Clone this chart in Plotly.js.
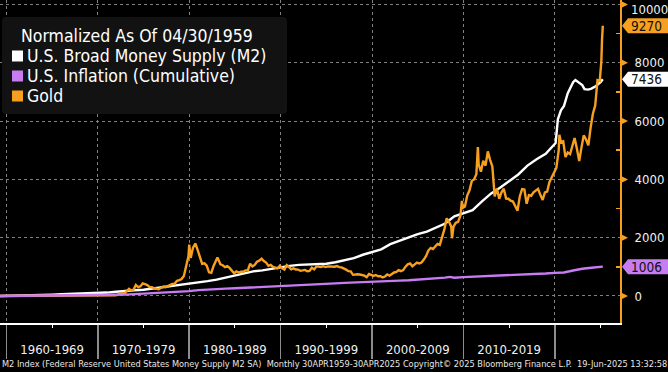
<!DOCTYPE html>
<html><head><meta charset="utf-8">
<script src="https://cdn.plot.ly/plotly-3.0.1.min.js"></script>
<style>html,body{margin:0;padding:0;background:#000;overflow:hidden}#chart{width:668px;height:372px;}</style>
</head><body><div id="chart"></div>
<script>
const FONT = '"DejaVu Sans Condensed", "DejaVu Sans", sans-serif';

const legendTitle = 'Normalized As Of 04/30/1959';
const seriesNames = ['U.S. Broad Money Supply (M2)', 'U.S. Inflation (Cumulative)', 'Gold'];
const seriesColors = ['#ffffff', '#c77cf2', '#f7a01f'];
const lastValues = [7436, 1006, 9270];

const m2Dates = ['1959-04','1960-01','1961-01','1962-01','1963-01','1964-01','1965-01','1966-01','1967-01','1968-01','1969-01','1970-01','1971-01','1972-01','1973-01','1974-01','1975-01','1976-01','1977-01','1978-01','1979-01','1980-01','1981-01','1982-01','1983-01','1984-01','1985-01','1986-01','1987-01','1988-01','1989-01','1990-01','1991-01','1992-01','1993-01','1994-01','1995-01','1996-01','1997-01','1998-01','1999-01','2000-01','2001-01','2002-01','2003-01','2004-01','2005-01','2006-01','2007-01','2008-01','2009-01','2010-01','2011-01','2012-01','2013-01','2014-01','2015-01','2016-01','2017-01','2018-01','2019-01','2020-01','2020-02','2020-04','2020-05','2020-09','2021-01','2021-06','2022-01','2022-04','2022-09','2023-01','2023-04','2023-09','2024-01','2024-06','2025-01','2025-04'];
const m2Vals = [0,3,8,16,26,36,47,59,66,82,96,103,117,146,178,196,212,252,299,339,373,410,454,508,560,635,698,762,845,880,936,992,1032,1067,1085,1102,1106,1156,1221,1296,1414,1505,1602,1779,1896,1998,2119,2211,2347,2485,2735,2835,2944,3240,3509,3712,3938,4169,4472,4693,4880,5203,5246,5782,6059,6371,6519,6959,7336,7409,7305,7236,7097,7080,7114,7184,7339,7436];

const cpiDates = ['1959-04','1960-01','1961-01','1962-01','1963-01','1964-01','1965-01','1966-01','1967-01','1968-01','1969-01','1970-01','1971-01','1972-01','1973-01','1974-01','1975-01','1976-01','1977-01','1978-01','1979-01','1980-01','1981-01','1982-01','1983-01','1984-01','1985-01','1986-01','1987-01','1988-01','1989-01','1990-01','1991-01','1992-01','1993-01','1994-01','1995-01','1996-01','1997-01','1998-01','1999-01','2000-01','2001-01','2002-01','2003-01','2004-01','2005-01','2006-01','2007-01','2008-01','2008-07','2009-01','2010-01','2011-01','2012-01','2013-01','2014-01','2015-01','2016-01','2017-01','2018-01','2019-01','2020-01','2021-01','2022-01','2023-01','2024-01','2025-01','2025-04'];
const cpiVals = [0,1,3,4,5,7,8,10,14,18,23,30,37,42,47,61,80,92,103,116,136,168,200,225,237,252,264,278,284,299,318,340,364,377,392,404,419,433,449,458,467,482,504,511,527,539,558,584,598,628,655,628,648,660,682,695,710,706,717,741,759,772,793,804,873,935,969,996,1006];

const goldDates = ['1959-04','1961-01','1964-01','1967-12','1968-03','1968-06','1968-12','1969-03','1969-06','1969-12','1970-06','1970-12','1971-06','1971-12','1972-03','1972-06','1972-12','1973-03','1973-06','1973-09','1973-12','1974-03','1974-06','1974-09','1974-12','1975-03','1975-06','1975-09','1975-12','1976-03','1976-06','1976-09','1976-12','1977-03','1977-06','1977-09','1977-12','1978-03','1978-06','1978-09','1978-12','1979-03','1979-06','1979-09','1979-12','1980-01','1980-03','1980-06','1980-09','1980-12','1981-03','1981-06','1981-09','1981-12','1982-03','1982-06','1982-09','1982-12','1983-02','1983-06','1983-09','1983-12','1984-03','1984-06','1984-09','1984-12','1985-03','1985-06','1985-09','1985-12','1986-03','1986-06','1986-09','1986-12','1987-03','1987-06','1987-09','1987-12','1988-03','1988-06','1988-09','1988-12','1989-03','1989-06','1989-09','1989-12','1990-03','1990-06','1990-09','1990-12','1991-03','1991-06','1991-09','1991-12','1992-03','1992-06','1992-09','1992-12','1993-03','1993-06','1993-09','1993-12','1994-03','1994-06','1994-09','1994-12','1995-03','1995-06','1995-09','1995-12','1996-03','1996-06','1996-09','1996-12','1997-03','1997-06','1997-09','1997-12','1998-03','1998-06','1998-09','1998-12','1999-03','1999-06','1999-09','1999-12','2000-03','2000-06','2000-09','2000-12','2001-03','2001-06','2001-09','2001-12','2002-03','2002-06','2002-09','2002-12','2003-03','2003-06','2003-09','2003-12','2004-03','2004-06','2004-09','2004-12','2005-03','2005-06','2005-09','2005-12','2006-03','2006-06','2006-09','2006-12','2007-03','2007-06','2007-09','2007-12','2008-03','2008-06','2008-09','2008-10','2008-12','2009-03','2009-06','2009-09','2009-11','2009-12','2010-03','2010-06','2010-09','2010-12','2011-03','2011-06','2011-08','2011-09','2011-12','2012-03','2012-06','2012-09','2012-12','2013-03','2013-06','2013-09','2013-12','2014-03','2014-06','2014-09','2014-12','2015-03','2015-06','2015-09','2015-12','2016-03','2016-06','2016-09','2016-12','2017-03','2017-06','2017-09','2017-12','2018-03','2018-06','2018-09','2018-12','2019-03','2019-06','2019-09','2019-12','2020-03','2020-06','2020-07','2020-09','2020-12','2021-03','2021-06','2021-09','2021-12','2022-03','2022-06','2022-09','2022-12','2023-03','2023-06','2023-09','2023-12','2024-03','2024-06','2024-09','2024-12','2025-02','2025-03','2025-04'];
const goldVals = [0,0,0,0,8,14,17,22,17,0,3,7,14,24,37,85,85,156,242,185,219,379,307,333,430,404,373,305,299,265,253,233,282,325,302,339,370,416,424,521,544,584,689,1031,1359,1760,1307,1660,1800,1581,1322,1105,1119,1040,812,797,1031,1176,1324,1088,1054,988,1022,963,874,780,840,803,829,832,880,883,1108,1014,1065,1176,1210,1279,1199,1145,1034,1068,997,963,946,1042,948,903,1062,1000,914,946,909,906,863,877,894,849,860,971,911,1014,1011,997,1022,991,1014,1003,994,1003,1028,988,980,951,903,852,846,726,746,743,738,721,698,646,752,721,689,721,678,675,635,669,735,695,758,806,823,889,852,886,1005,1088,1117,1020,1082,1148,1119,1145,1248,1373,1558,1646,1607,1701,1783,1752,2017,2282,2664,2550,2379,1980,2379,2510,2541,2752,3262,3023,3071,3444,3624,3949,4000,4174,5111,4515,4262,4635,4470,4960,4672,4444,3416,3681,3333,3558,3681,3342,3336,3270,3239,3077,2923,3413,3666,3649,3165,3458,3438,3555,3612,3675,3470,3296,3552,3581,3914,4094,4222,4393,4974,5527,5273,5307,4766,4923,4866,5111,5419,5048,4629,5097,5510,5367,5168,5777,6253,6530,7407,7379,8043,8800,9270];

const decadeStarts = ['1960-01-01','1970-01-01','1980-01-01','1990-01-01','2000-01-01','2010-01-01','2020-01-01'];
const decadeMids = ['1965-01-01','1975-01-01','1985-01-01','1995-01-01','2005-01-01','2015-01-01','2025-01-01'];
const decadeLabels = ['1960-1969','1970-1979','1980-1989','1990-1999','2000-2009','2010-2019',''];
const yTicks = [0,2000,4000,6000,8000,10000];
const yTickLabels = ['0','2000','4000','6000','8000','10000'];
const yMinorTicks = [1000,3000,5000,7000,9000];
const footerText = 'M2 Index (Federal Reserve United States Money Supply M2 SA)  Monthly 30APR1959-30APR2025 Copyright\u00a9 2025 Bloomberg Finance L.P.  19-Jun-2025 13:32:58';

const ORANGE = '#f7a01f';
const GRID = '#808080';
const yMax = 10154;

const traces = [
  {x: cpiDates, y: cpiVals, name: seriesNames[1], type: 'scatter', mode: 'lines', xaxis: 'x2', line: {color: seriesColors[1], width: 2.4}, hoverinfo: 'skip'},
  {x: m2Dates, y: m2Vals, name: seriesNames[0], type: 'scatter', mode: 'lines', line: {color: seriesColors[0], width: 2.4}, hoverinfo: 'skip'},
  {x: goldDates, y: goldVals, name: seriesNames[2], type: 'scatter', mode: 'lines', line: {color: seriesColors[2], width: 2.4}, hoverinfo: 'skip'}
];

const shapes = [];
const annotations = [];

// Legend box
shapes.push({type: 'path', xref: 'paper', yref: 'paper', xsizemode: 'pixel', ysizemode: 'pixel', xanchor: 0, yanchor: 1,
  path: 'M 6,-17 L 283,-17 Q 287,-17 287,-21 L 287,-110 Q 287,-114 283,-114 L 6,-114 Q 2,-114 2,-110 L 2,-21 Q 2,-17 6,-17 Z',
  fillcolor: '#121212', line: {width: 0}, layer: 'above'});
annotations.push({xref: 'paper', yref: 'paper', x: 0, y: 1, xanchor: 'left', yanchor: 'middle', xshift: 19, yshift: -36,
  text: legendTitle, showarrow: false, font: {family: FONT, size: 17.5, color: '#ffffff'}});
const legendOrder = [0, 1, 2];
legendOrder.forEach((si, i) => {
  const cy = -56 - i * 20;
  shapes.push({type: 'rect', xref: 'paper', yref: 'paper', xsizemode: 'pixel', ysizemode: 'pixel', xanchor: 0, yanchor: 1,
    x0: 12, x1: 23, y0: cy - 5.5, y1: cy + 5.5, fillcolor: seriesColors[si], line: {width: 0}, layer: 'above'});
  annotations.push({xref: 'paper', yref: 'paper', x: 0, y: 1, xanchor: 'left', yanchor: 'middle', xshift: 25, yshift: cy,
    text: seriesNames[si], showarrow: false, font: {family: FONT, size: 17.5, color: '#ffffff'}});
});

// Y tick arrow markers; labels that would be clipped at the top edge are drawn nudged inward
yTicks.forEach((v, i) => {
  shapes.push({type: 'path', xref: 'paper', yref: 'y', xsizemode: 'pixel', ysizemode: 'pixel', xanchor: 1, yanchor: v,
    path: 'M 1,3.5 L 8,0 L 1,-3.5 Z', fillcolor: ORANGE, line: {width: 0}, layer: 'above'});
});
const topIdx = yTicks.length - 1;
annotations.push({xref: 'paper', yref: 'y', x: 1, y: yTicks[topIdx], xanchor: 'left', yanchor: 'middle', xshift: 9, yshift: -5,
  text: yTickLabels[topIdx], showarrow: false, font: {family: FONT, size: 13, color: '#f0f0f0'}});

// Last value tags
const tagText = ['#101010', '#101010', '#101010'];
[2, 0, 1].forEach(si => {
  shapes.push({type: 'path', xref: 'paper', yref: 'y', xsizemode: 'pixel', ysizemode: 'pixel', xanchor: 1, yanchor: lastValues[si],
    path: 'M 2,0 L 8,-7.5 L 48,-7.5 L 48,7.5 L 8,7.5 Z', fillcolor: seriesColors[si], line: {width: 0}, layer: 'above'});
  annotations.push({xref: 'paper', yref: 'y', x: 1, y: lastValues[si], xanchor: 'left', yanchor: 'middle', xshift: 9,
    text: String(lastValues[si]), showarrow: false, font: {family: FONT, size: 13.5, color: tagText[si]}});
});

// Footer
annotations.push({xref: 'paper', yref: 'paper', x: 0, y: 0, xanchor: 'left', yanchor: 'middle', xshift: 0, yshift: -41,
  text: footerText, showarrow: false, font: {family: FONT, size: 9.15, color: '#e8e8e8'}});

const xRange = ['1959-04-20', '2027-02-17'];

const layout = {
  width: 668, height: 372,
  margin: {l: 0, r: 48, t: 0, b: 49, pad: 0},
  paper_bgcolor: '#000000', plot_bgcolor: '#000000',
  showlegend: false,
  font: {family: FONT, color: '#f0f0f0', size: 13},
  xaxis: {
    type: 'date', range: xRange, fixedrange: true,
    showline: true, linecolor: '#ffffff', linewidth: 1.5,
    tickmode: 'array', tickvals: decadeStarts, ticktext: decadeStarts.map(() => ''),
    ticks: 'outside', ticklen: 34, tickcolor: '#8c8c8c', tickwidth: 1.5,
    showgrid: true, gridcolor: GRID, griddash: 'dot', gridwidth: 1, zeroline: false
  },
  xaxis2: {
    type: 'date', overlaying: 'x', matches: 'x', anchor: 'y', side: 'bottom', range: xRange, fixedrange: true,
    showline: false, showgrid: false, zeroline: false,
    tickmode: 'array', tickvals: decadeMids, ticktext: decadeLabels,
    ticks: 'outside', ticklen: 4, tickcolor: '#ffffff', tickwidth: 1,
    ticklabelstandoff: 10,
    tickfont: {family: FONT, size: 13, color: '#f0f0f0'}
  },
  yaxis: {
    side: 'right', range: [-927, yMax], fixedrange: true,
    showline: true, linecolor: ORANGE, linewidth: 2,
    tickmode: 'array', tickvals: yTicks, ticktext: yTickLabels.map((t, i) => i === topIdx ? '' : t),
    ticks: '', ticklabelstandoff: 10,
    tickfont: {family: FONT, size: 13, color: '#f0f0f0'},
    showgrid: true, gridcolor: GRID, griddash: 'dot', gridwidth: 1, zeroline: false,
    minor: {tickmode: 'array', tickvals: yMinorTicks, ticks: 'inside', ticklen: 4, tickcolor: ORANGE, tickwidth: 1.5, showgrid: false}
  },
  shapes: shapes,
  annotations: annotations
};

Plotly.newPlot('chart', traces, layout, {staticPlot: true, displayModeBar: false});
</script>
</body></html>
